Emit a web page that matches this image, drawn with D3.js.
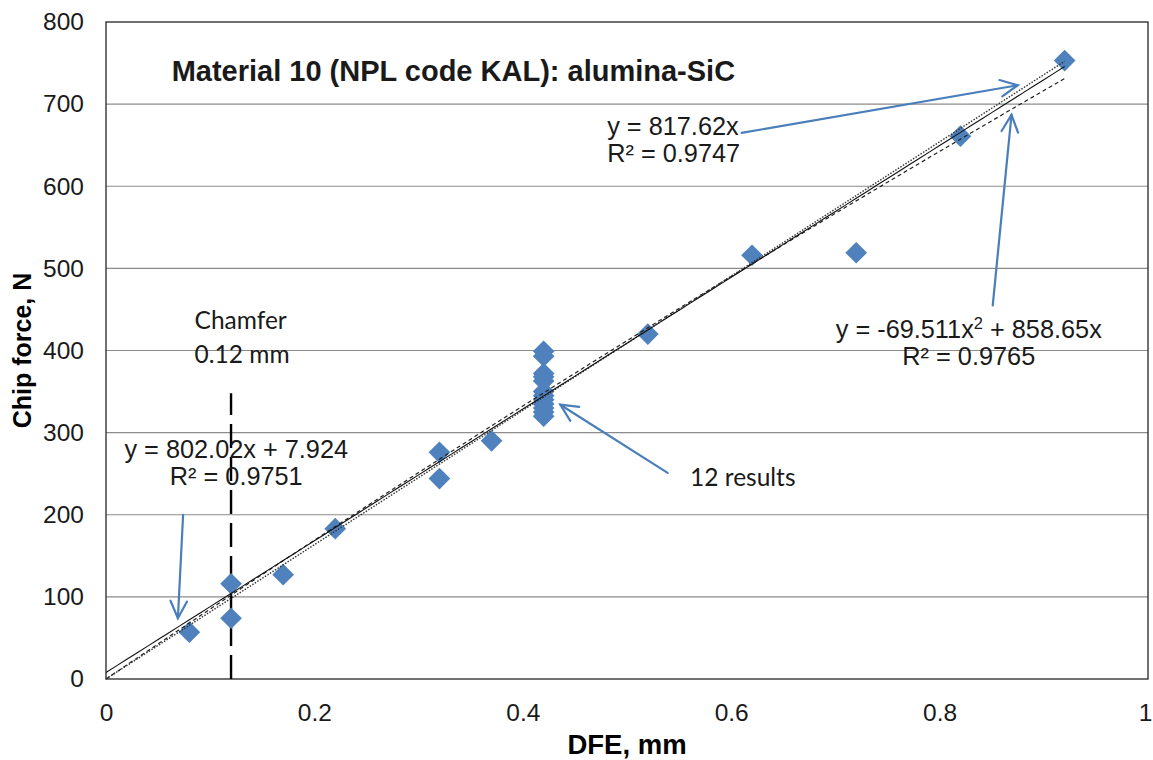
<!DOCTYPE html>
<html>
<head>
<meta charset="utf-8">
<script src="https://cdn.jsdelivr.net/npm/d3@7"></script>
<style>
  html, body { margin: 0; padding: 0; background: #fff; }
  svg { display: block; }
</style>
</head>
<body>
<svg id="chart" width="1153" height="760"></svg>
<script>
// Measured depth from edge (mm) and chip force (N)
const dfe = [0.08, 0.12, 0.12, 0.17, 0.22, 0.32, 0.32, 0.37,
             0.42, 0.42, 0.42, 0.42, 0.42, 0.42, 0.42, 0.42, 0.42, 0.42, 0.42, 0.42,
             0.52, 0.62, 0.72, 0.82, 0.92];
const force = [57, 116, 74, 127, 183, 276, 244, 290,
               399, 393, 372, 368, 363, 350, 345, 340, 335, 330, 325, 320,
               420, 516, 519, 661, 753];

const xTicks = [0, 0.2, 0.4, 0.6, 0.8, 1];
const yTicks = [0, 100, 200, 300, 400, 500, 600, 700, 800];

// Fitted trendline coefficients
const fitOrigin = { a: 817.62 };                 // y = a x
const fitLinear = { a: 802.02, b: 7.924 };        // y = a x + b
const fitPoly = { a: -69.511, b: 858.65 };        // y = a x^2 + b x
const fitRange = [0, 0.92];
const chamferDepth = 0.12;

const svg = d3.select("#chart");
const margin = { left: 106, right: 5, top: 22, bottom: 81 };
const W = 1153, H = 760;
const x = d3.scaleLinear().domain([0, 1]).range([margin.left, W - margin.right]);
const y = d3.scaleLinear().domain([0, 800]).range([H - margin.bottom, margin.top]);

const arial = "'Liberation Sans', Arial, sans-serif";
const calibri = "Lato, 'Open Sans', sans-serif";

// Horizontal gridlines
svg.append("g")
  .selectAll("line")
  .data(yTicks.filter(d => d > 0 && d < 800))
  .join("line")
  .attr("x1", x(0)).attr("x2", x(1))
  .attr("y1", d => y(d)).attr("y2", d => y(d))
  .attr("stroke", "#8c8c8c").attr("stroke-width", 1.2);

// Plot frame
svg.append("rect")
  .attr("x", x(0)).attr("y", y(800))
  .attr("width", x(1) - x(0)).attr("height", y(0) - y(800))
  .attr("fill", "none").attr("stroke", "#262626").attr("stroke-width", 1.3);

// Axes
const yAxis = d3.axisLeft(y).tickValues(yTicks).tickSize(0).tickPadding(22);
svg.append("g").attr("transform", `translate(${x(0)},0)`).call(yAxis)
  .call(g => g.select(".domain").remove())
  .selectAll("text").attr("font-family", arial).attr("font-size", 24.5).attr("fill", "#1a1a1a");

const xAxis = d3.axisBottom(x).tickValues(xTicks).tickSize(0).tickPadding(25)
  .tickFormat(d => d3.format("")(d));
svg.append("g").attr("transform", `translate(0,${y(0)})`).call(xAxis)
  .call(g => g.select(".domain").remove())
  .selectAll("text").attr("font-family", arial).attr("font-size", 24.5).attr("fill", "#1a1a1a")
  .attr("dx", d => d === 1 ? -3 : 0);

// Axis titles
svg.append("text")
  .attr("x", x(0.5)).attr("y", 754)
  .attr("text-anchor", "middle")
  .attr("font-family", arial).attr("font-size", 27.5).attr("font-weight", "bold")
  .text("DFE, mm");
svg.append("text")
  .attr("transform", `translate(31,${y(400)}) rotate(-90)`)
  .attr("text-anchor", "middle")
  .attr("font-family", arial).attr("font-size", 25).attr("font-weight", "bold")
  .text("Chip force, N");

// Chamfer marker
svg.append("line")
  .attr("x1", x(chamferDepth)).attr("x2", x(chamferDepth))
  .attr("y1", y(0)).attr("y2", y(348))
  .attr("stroke", "#000").attr("stroke-width", 2.4)
  .attr("stroke-dasharray", "24,9");

// Data points as diamonds
const diamond = d3.symbol().type(d3.symbolDiamond2).size(300);
svg.append("g")
  .selectAll("path")
  .data(dfe.map((d, i) => [d, force[i]]))
  .join("path")
  .attr("d", diamond)
  .attr("transform", d => `translate(${x(d[0])},${y(d[1])})`)
  .attr("fill", "#4f81bd");

// Trendlines
const xs = d3.range(0, 93).map(i => fitRange[0] + (fitRange[1] - fitRange[0]) * i / 92);
const line = d3.line().x(d => x(d[0])).y(d => y(d[1]));
svg.append("path")
  .attr("d", line(xs.map(v => [v, fitPoly.a * v * v + fitPoly.b * v])))
  .attr("fill", "none").attr("stroke", "#222").attr("stroke-width", 1.2)
  .attr("stroke-dasharray", "4,3");
svg.append("path")
  .attr("d", line(xs.map(v => [v, fitOrigin.a * v])))
  .attr("fill", "none").attr("stroke", "#333").attr("stroke-width", 1.4)
  .attr("stroke-dasharray", "1.5,1.5");
svg.append("path")
  .attr("d", line(xs.map(v => [v, fitLinear.a * v + fitLinear.b])))
  .attr("fill", "none").attr("stroke", "#111").attr("stroke-width", 1.1);

// Annotation arrows (data coordinates)
const arrows = [
  { from: [0.610, 665], to: [0.875, 723] },
  { from: [0.851, 455], to: [0.869, 687] },
  { from: [0.074, 200], to: [0.069, 74] },
  { from: [0.539, 251], to: [0.436, 334] }
];
const ag = svg.append("g").attr("stroke", "#4a7ebb").attr("stroke-width", 2.2)
  .attr("fill", "none").attr("stroke-linecap", "round");
arrows.forEach(a => {
  const x1 = x(a.from[0]), y1 = y(a.from[1]), x2 = x(a.to[0]), y2 = y(a.to[1]);
  ag.append("line").attr("x1", x1).attr("y1", y1).attr("x2", x2).attr("y2", y2);
  const ang = Math.atan2(y2 - y1, x2 - x1);
  const len = 19, spread = 0.45;
  const p1 = [x2 - len * Math.cos(ang - spread), y2 - len * Math.sin(ang - spread)];
  const p2 = [x2 - len * Math.cos(ang + spread), y2 - len * Math.sin(ang + spread)];
  ag.append("path").attr("d", `M${p1[0]},${p1[1]}L${x2},${y2}L${p2[0]},${p2[1]}`);
});

// Labels
function label(txt, xv, yv, opts = {}) {
  const size = opts.size || 25.3;
  const t = svg.append("text")
    .attr("x", x(xv)).attr("y", y(yv))
    .attr("text-anchor", opts.anchor || "start")
    .attr("font-family", opts.family || arial)
    .attr("font-size", size)
    .attr("font-weight", opts.weight || "normal")
    .attr("fill", "#1a1a1a");
  if (Array.isArray(txt)) {
    txt.forEach(part => {
      const s = t.append("tspan").text(part.t);
      if (part.sup) s.attr("baseline-shift", "super").attr("font-size", size * 0.65);
    });
  } else {
    t.text(txt);
  }
  return t;
}

label("Material 10 (NPL code KAL): alumina-SiC", 0.063, 728, { size: 29, weight: "bold" });
label("y = 817.62x", 0.481, 663);
label("R² = 0.9747", 0.481, 629);
label([{ t: "y = -69.511x" }, { t: "2", sup: true }, { t: " + 858.65x" }], 0.828, 415, { anchor: "middle" });
label("R² = 0.9765", 0.828, 382, { anchor: "middle" });
label("y = 802.02x + 7.924", 0.125, 269, { anchor: "middle" });
label("R² = 0.9751", 0.125, 236, { anchor: "middle" });
label("Chamfer", 0.085, 426, { family: calibri, size: 24.5 });
label("0.12 mm", 0.085, 385, { family: calibri, size: 24.5 });
label("12 results", 0.5605, 235, { family: calibri, size: 24.5 });
</script>
</body>
</html>
